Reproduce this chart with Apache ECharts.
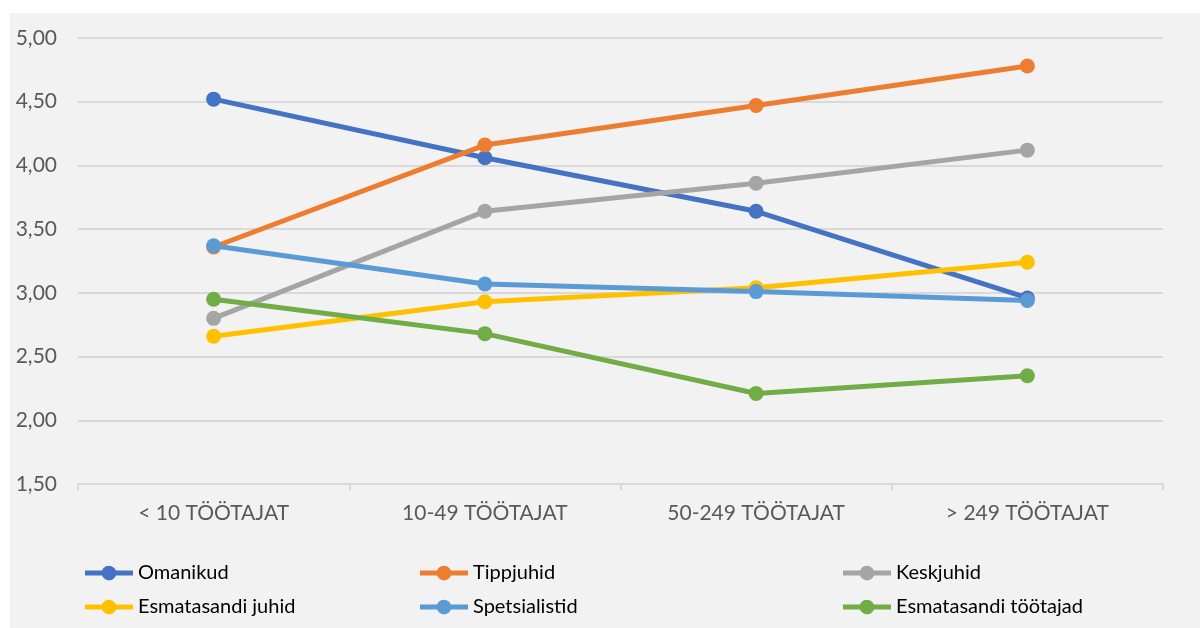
<!DOCTYPE html>
<html>
<head>
<meta charset="utf-8">
<script src="https://cdn.jsdelivr.net/npm/echarts@6/dist/echarts.min.js"></script>
<style>
  html, body { margin: 0; padding: 0; background: #ffffff; }
  #chart { width: 1200px; height: 628px; }
</style>
</head>
<body>
<div id="chart"></div>
<script>
// Ettevõtte suurusklassid
const categories = ['< 10 TÖÖTAJAT', '10-49 TÖÖTAJAT', '50-249 TÖÖTAJAT', '> 249 TÖÖTAJAT'];

// Keskmised hinnangud ametirühmade kaupa
const omanikud = [4.52, 4.06, 3.64, 2.96];
const tippjuhid = [3.36, 4.16, 4.47, 4.78];
const keskjuhid = [2.80, 3.64, 3.86, 4.12];
const esmatasandiJuhid = [2.66, 2.93, 3.04, 3.24];
const spetsialistid = [3.37, 3.07, 3.01, 2.94];
const esmatasandiTootajad = [2.95, 2.68, 2.21, 2.35];

const yTicks = { min: 1.5, max: 5, step: 0.5 };

const seriesDefs = [
  { name: 'Omanikud', data: omanikud, color: '#4472C4' },
  { name: 'Tippjuhid', data: tippjuhid, color: '#ED7D31' },
  { name: 'Keskjuhid', data: keskjuhid, color: '#A5A5A5' },
  { name: 'Esmatasandi juhid', data: esmatasandiJuhid, color: '#FFC000' },
  { name: 'Spetsialistid', data: spetsialistid, color: '#5B9BD5' },
  { name: 'Esmatasandi töötajad', data: esmatasandiTootajad, color: '#70AD47' }
];

const FONT = 'Lato, "Open Sans", sans-serif';

// Legend key: thick line with a round marker in the middle (48 x 15 box)
const LEGEND_ICON = 'path://M0,5 L17,5 A7.5,7.5 0 0 1 31,5 L48,5 L48,10 L31,10 A7.5,7.5 0 0 1 17,10 L0,10 Z';

function legendColumn(names, left) {
  return {
    data: names.map(n => ({ name: n, icon: LEGEND_ICON })),
    orient: 'vertical',
    left: left,
    top: 563,
    padding: 0,
    icon: LEGEND_ICON,
    itemWidth: 48,
    itemHeight: 15,
    itemGap: 14,
    selectedMode: false,
    textStyle: { fontFamily: FONT, fontSize: 20, color: '#000000' }
  };
}

const chart = echarts.init(document.getElementById('chart'), null, { renderer: 'canvas' });

chart.setOption({
  animation: false,
  backgroundColor: 'transparent',
  graphic: [{
    type: 'rect',
    z: -10,
    silent: true,
    shape: { x: 10, y: 13, width: 1190, height: 615 },
    style: { fill: '#F2F2F2' }
  }],
  grid: { left: 78, right: 37, top: 38, bottom: 144, containLabel: false },
  legend: [
    legendColumn(['Omanikud', 'Esmatasandi juhid'], 85),
    legendColumn(['Tippjuhid', 'Spetsialistid'], 420),
    legendColumn(['Keskjuhid', 'Esmatasandi töötajad'], 843)
  ],
  xAxis: {
    type: 'category',
    data: categories,
    boundaryGap: true,
    axisLine: { lineStyle: { color: '#D9D9D9', width: 2 } },
    axisTick: { show: true, length: 6, lineStyle: { color: '#D9D9D9', width: 2 } },
    axisLabel: { fontFamily: FONT, fontSize: 21, color: '#595959', margin: 19 }
  },
  yAxis: {
    type: 'value',
    min: yTicks.min,
    max: yTicks.max,
    interval: yTicks.step,
    axisLine: { show: false },
    axisTick: { show: false },
    axisLabel: {
      fontFamily: FONT, fontSize: 21, color: '#595959', margin: 21,
      formatter: v => v.toFixed(2).replace('.', ',')
    },
    splitLine: { lineStyle: { color: '#D9D9D9', width: 2 } }
  },
  series: seriesDefs.map(s => ({
    name: s.name,
    type: 'line',
    data: s.data,
    symbol: 'circle',
    symbolSize: 15,
    lineStyle: { width: 5, color: s.color },
    itemStyle: { color: s.color },
    emphasis: { disabled: true }
  }))
});
</script>
</body>
</html>
